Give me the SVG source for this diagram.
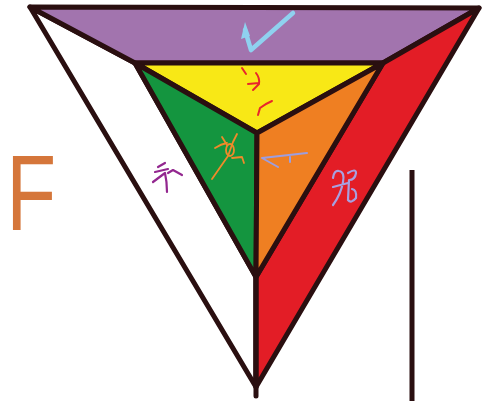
<svg xmlns="http://www.w3.org/2000/svg" width="488" height="401" viewBox="0 0 488 401">
<style>
.edge{stroke:#2a0f10;stroke-width:5;stroke-linejoin:round;stroke-linecap:round}
.mark{fill:none;stroke-linecap:round;stroke-linejoin:round}
</style>
<rect width="488" height="401" fill="#ffffff"/>
<g id="regions">
<polygon id="white" points="30,7 135,63 256,277 256,387" fill="#ffffff" class="edge"/>
<polygon id="purple" points="30,7 479,8 383,63 135,63" fill="#a274ae" class="edge"/>
<polygon id="red" points="479,8 383,63 256,277 256,387" fill="#e31d26" class="edge"/>
<polygon id="yellow" points="135,63 383,63 257,133" fill="#f8e816" class="edge"/>
<polygon id="green" points="135,63 257,133 256,277" fill="#14953f" class="edge"/>
<polygon id="orange" points="383,63 257,133 256,277" fill="#ef7f22" class="edge"/>
</g>
<g id="lines">
<line x1="256" y1="277" x2="256" y2="396" class="edge"/>
<line x1="412" y1="170" x2="412" y2="401" stroke="#2a0f10" stroke-width="5"/>
</g>
<g id="marks">
<path class="mark" d="M293,13 L251,50 L245,30" stroke="#8fd1ef" stroke-width="4.5"/>
<polygon points="241,39 245,22 250,36" fill="#8fd1ef"/>
<path class="mark" d="M242,68 L246,74 M248,84 L259,83 M256,73 Q260,78 259,84 L253,90 M258,115 L260,108 Q265,104 272,101" stroke="#e8262c" stroke-width="2"/>
<path class="mark" d="M212,179 L228,156 L233,142 L237,134 M222,137 L227,145 M215,148 Q221,144 227,143 M232,158 L242,157 L244,163" stroke="#f08a2a" stroke-width="1.8"/>
<ellipse cx="230" cy="150" rx="4" ry="6" fill="none" stroke="#f08a2a" stroke-width="1.8"/>
<path class="mark" d="M262,158 L307,153 M262,158 L278,167 M290,157 L290,162" stroke="#9c9ee0" stroke-width="2"/>
<path class="mark" d="M158,167 L165,163 M155,172 L168,169 M165,173 L153,182 M165,173 Q167,182 167,192 M168,173 L173,170 L182,175" stroke="#93278f" stroke-width="2.2"/>
<path class="mark" d="M333,178 Q334,170 339,171 Q345,172 343,182 Q341,194 333,205 M333,187 L348,183 M348,173 Q356,168 356,173 Q355,180 349,180 L348,200 Q351,204 356,198 Q357,190 352,189" stroke="#a8a0e0" stroke-width="2.2"/>
</g>
<text transform="translate(13,230) scale(0.76,1)" x="-8.8" y="0" font-family="Liberation Sans, Arial, sans-serif" font-size="107.5" fill="#d5763a">F</text>
</svg>
